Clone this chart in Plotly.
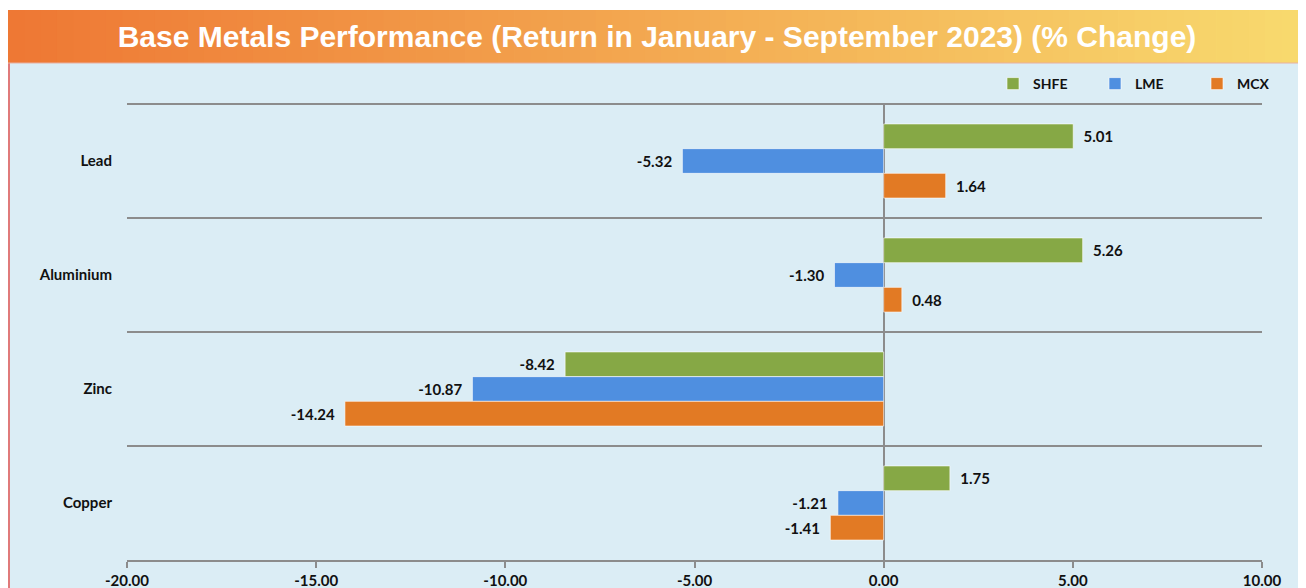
import plotly.graph_objects as go

categories = ["Lead", "Aluminium", "Zinc", "Copper"]
shfe = [5.01, 5.26, -8.42, 1.75]
lme = [-5.32, -1.30, -10.87, -1.21]
mcx = [1.64, 0.48, -14.24, -1.41]
x_ticks = [-20, -15, -10, -5, 0, 5, 10]
x_tick_labels = ["-20.00", "-15.00", "-10.00", "-5.00", "0.00", "5.00", "10.00"]
title_text = "Base Metals Performance (Return in January - September 2023) (% Change)"

W, H = 1306, 588
OFF = 8  # page body margin offset
L, R, T, B = 127 - OFF, 1262 - OFF, 104 - OFF, 560 - OFF  # plot area in figure px


def px_x(px):
    """reference screenshot px -> paper x"""
    return (px - OFF - L) / (R - L)


def px_y(py):
    """reference screenshot px -> paper y"""
    return (B - (py - OFF)) / (B - T)


def lbl(vals):
    nb = "\u00a0"
    return [(nb * 2 + f"{v:.2f}") if v >= 0 else (f"{v:.2f}" + nb * 2) for v in vals]


series = [("SHFE", shfe, "#86a845"), ("LME", lme, "#4f8fe0"), ("MCX", mcx, "#e27a24")]
FONT = "Lato"
FS = 15

fig = go.Figure()
for name, vals, col in series:
    fig.add_trace(go.Bar(
        y=categories, x=vals, name=name, orientation="h",
        marker=dict(color=col, line=dict(color="rgba(255,255,255,0.6)", width=1)),
        text=lbl(vals), textposition="outside", cliponaxis=False,
        textfont=dict(family=FONT, size=FS, color="#111111", weight="bold"),
    ))

shapes = []
# light blue body
shapes.append(dict(type="rect", xref="paper", yref="paper", layer="below",
                   x0=px_x(8), x1=px_x(1320), y0=px_y(63), y1=px_y(600),
                   fillcolor="#dbedf5", line=dict(width=0)))
# gradient title band
n = 80
c0 = (238, 120, 52)
c1 = (248, 218, 110)
x_start, x_end = 8, 1314
for i in range(n):
    t = i / (n - 1)
    c = tuple(int(round(c0[k] + (c1[k] - c0[k]) * t)) for k in range(3))
    xa = x_start + (x_end - x_start) * i / n
    xb = x_start + (x_end - x_start) * (i + 1) / n + 0.8
    shapes.append(dict(type="rect", xref="paper", yref="paper", layer="below",
                       x0=px_x(xa), x1=px_x(xb), y0=px_y(63), y1=px_y(10),
                       fillcolor=f"rgb{c}", line=dict(width=0)))
# borders
shapes.append(dict(type="line", xref="paper", yref="paper",
                   x0=px_x(9), x1=px_x(9), y0=px_y(63), y1=px_y(600),
                   line=dict(color="#e07a7a", width=2)))
shapes.append(dict(type="line", xref="paper", yref="paper",
                   x0=px_x(1304.5), x1=px_x(1304.5), y0=px_y(63), y1=px_y(600),
                   line=dict(color="#b23a3a", width=2)))
shapes.append(dict(type="line", xref="paper", yref="paper",
                   x0=px_x(8), x1=px_x(1314), y0=px_y(63), y1=px_y(63),
                   line=dict(color="#e8b0a0", width=1)))
# top grid line
shapes.append(dict(type="line", xref="paper", yref="paper",
                   x0=0, x1=1, y0=1, y1=1, line=dict(color="#8c8c8c", width=2)))

fig.update_layout(
    width=W, height=H,
    margin=dict(l=L, r=W - R, t=T, b=H - B, autoexpand=False),
    paper_bgcolor="white", plot_bgcolor="rgba(0,0,0,0)",
    barmode="group", bargap=0.35, bargroupgap=0,
    shapes=shapes,
    showlegend=True,
    legend=dict(orientation="h", x=px_x(1299), y=px_y(84), xanchor="right", yanchor="middle",
                bgcolor="rgba(0,0,0,0)", entrywidth=57, entrywidthmode="pixels",
                itemwidth=30, tracegroupgap=0,
                font=dict(family=FONT, size=14, color="#111111", weight="bold")),
    title=dict(text=title_text, xref="container", yref="container",
               x=(657 - OFF) / W, y=1 - (36 - OFF) / H, xanchor="center", yanchor="middle",
               font=dict(family="Liberation Sans", size=30, color="white", weight="bold")),
    font=dict(family=FONT, size=FS, color="#111111"),
)
fig.update_xaxes(
    range=[-20, 10], tickvals=x_ticks, ticktext=x_tick_labels,
    showgrid=False, showline=True, linecolor="#8c8c8c", linewidth=2,
    ticks="outside", ticklen=6, tickwidth=2, tickcolor="#8c8c8c",
    zeroline=True, zerolinecolor="#8c8c8c", zerolinewidth=2,
    tickfont=dict(family=FONT, size=FS, color="#111111", weight="bold"),
)
fig.update_yaxes(
    autorange="reversed", type="category", tickson="boundaries",
    showgrid=True, gridcolor="#8c8c8c", gridwidth=2, ticks="", ticklabelstandoff=14,
    showline=False, zeroline=False,
    tickfont=dict(family=FONT, size=FS, color="#111111", weight="bold"),
)

fig.write_html("out.html")
